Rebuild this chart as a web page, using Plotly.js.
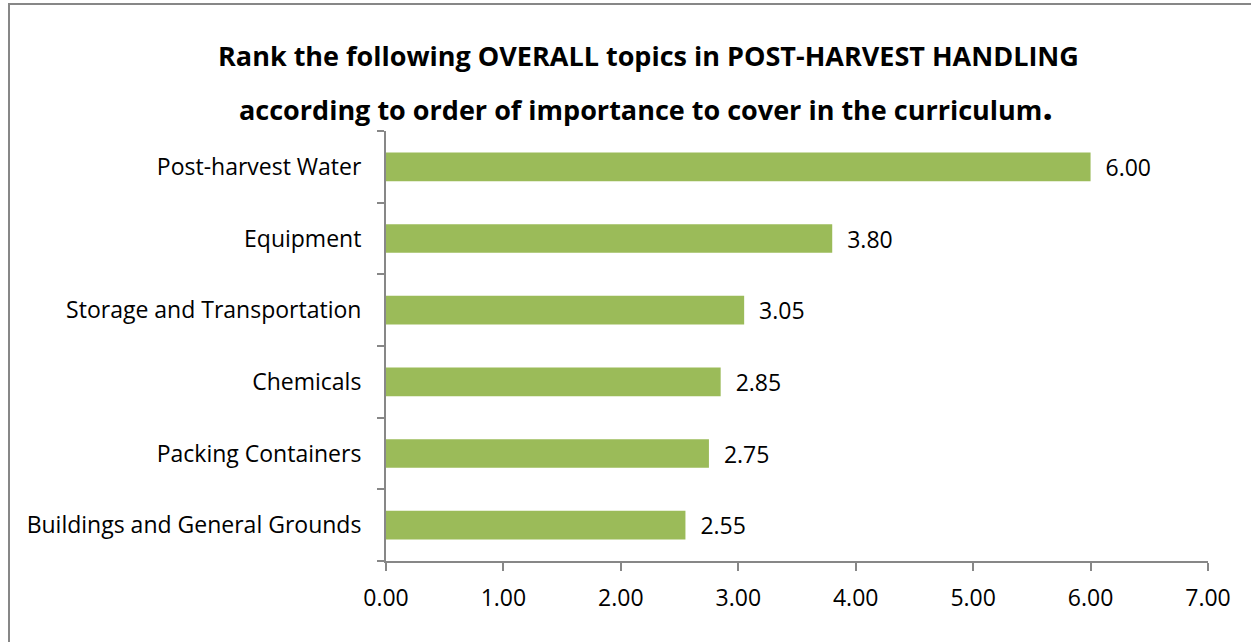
<!DOCTYPE html>
<html>
<head>
<meta charset="utf-8">
<script src="https://cdn.plot.ly/plotly-3.0.1.min.js"></script>
<style>
  html, body { margin: 0; padding: 0; background: #fff; }
  #wrap { position: relative; width: 1251px; height: 642px; overflow: hidden; }
  #frame { position: absolute; left: 8px; top: 3px; width: 1300px; height: 700px; border: 2px solid #878787; box-sizing: border-box; }
  #chart { position: absolute; left: 0; top: 0; width: 1251px; height: 642px; }
</style>
</head>
<body>
<div id="wrap">
  <div id="frame"></div>
  <div id="chart"></div>
</div>
<script>
const categories = [
  "Buildings and General Grounds",
  "Packing Containers",
  "Chemicals",
  "Storage and Transportation",
  "Equipment",
  "Post-harvest Water"
];
const values = [2.55, 2.75, 2.85, 3.05, 3.80, 6.00];
const titleLine1 = "Rank the following OVERALL topics in POST-HARVEST HANDLING";
const titleLine2 = "according to order of importance to cover in the curriculum";
const xTicks = [0, 1, 2, 3, 4, 5, 6, 7];

const FONT = "'Open Sans', sans-serif";
const FS = 23;

const trace = {
  type: "bar",
  orientation: "h",
  y: categories,
  x: values,
  width: 0.4,
  marker: { color: "#9BBB59", line: { width: 0 } },
  text: values.map(v => "\u00a0\u00a0" + v.toFixed(2)),
  textposition: "outside",
  constraintext: "none",
  cliponaxis: false,
  textfont: { family: FONT, size: FS, color: "#000" },
  hoverinfo: "none"
};

const layout = {
  width: 1251,
  height: 642,
  margin: { l: 386, r: 43, t: 131, b: 81, pad: 0 },
  paper_bgcolor: "rgba(0,0,0,0)",
  plot_bgcolor: "rgba(0,0,0,0)",
  showlegend: false,
  font: { family: FONT, size: FS, color: "#000" },
  xaxis: {
    range: [0, 7],
    tickvals: xTicks,
    ticktext: xTicks.map(v => v.toFixed(2)),
    showgrid: false,
    zeroline: false,
    showline: true,
    linecolor: "#878787",
    linewidth: 2,
    ticks: "outside",
    ticklen: 8,
    tickwidth: 2,
    tickcolor: "#878787",
    ticklabelstandoff: 7,
    tickfont: { family: FONT, size: FS, color: "#000" },
    fixedrange: true
  },
  yaxis: {
    type: "category",
    categoryorder: "array",
    categoryarray: categories,
    range: [-0.5, 5.5],
    showgrid: false,
    zeroline: false,
    showline: true,
    linecolor: "#878787",
    linewidth: 2,
    ticks: "outside",
    tickson: "boundaries",
    ticklen: 7,
    tickwidth: 2,
    tickcolor: "#878787",
    ticklabelstandoff: 18,
    tickfont: { family: FONT, size: FS, color: "#000" },
    fixedrange: true
  },
  annotations: [
    {
      xref: "paper", yref: "paper",
      x: (648 - 386) / 822, y: 1 + (131 - 56) / 430,
      xanchor: "center", yanchor: "middle",
      showarrow: false,
      text: "<b>" + titleLine1 + "</b>",
      font: { family: FONT, size: 27, color: "#000" }
    },
    {
      xref: "paper", yref: "paper",
      x: (646 - 386) / 822, y: 1 + (131 - 105) / 430,
      xanchor: "center", yanchor: "middle",
      showarrow: false,
      text: "<b>" + titleLine2 + "<span style='font-size:38px'>.</span></b>",
      font: { family: FONT, size: 27, color: "#000" }
    }
  ]
};

Plotly.newPlot("chart", [trace], layout, { staticPlot: true, displayModeBar: false });
</script>
</body>
</html>
